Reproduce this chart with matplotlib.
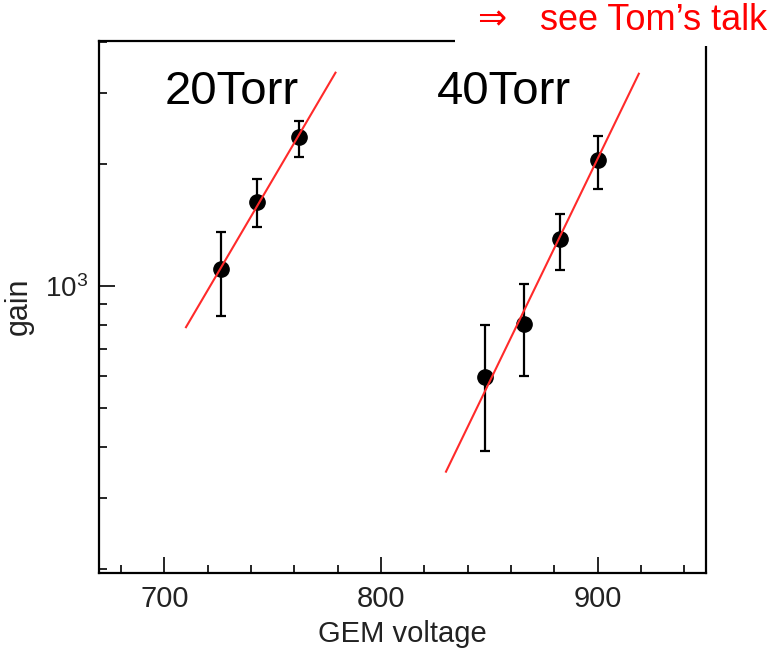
import matplotlib
matplotlib.use('Agg')
import matplotlib.pyplot as plt
from matplotlib.ticker import LogLocator, NullFormatter, FixedLocator, LogFormatterMathtext
from matplotlib.patches import Rectangle
import numpy as np

plt.rcParams['font.family'] = ['Liberation Sans', 'DejaVu Sans']

# 20 Torr data (GEM voltage, gain, error bar low/high)
v20 = [726, 743, 762]
g20 = [1100, 1615, 2330]
g20_lo = [845, 1400, 2085]
g20_hi = [1357, 1837, 2553]
fit20_v = [710, 779]
fit20_g = [791, 3360]

# 40 Torr data
v40 = [848, 866, 882.5, 900]
g40 = [597, 806, 1306, 2047]
g40_lo = [391, 600, 1095, 1733]
g40_hi = [801, 1010, 1503, 2350]
fit40_v = [830, 919]
fit40_g = [348, 3340]

W, H = 782, 649
fig = plt.figure(figsize=(W / 100, H / 100), dpi=100)
ax = fig.add_axes([0.127, 0.1176, 0.7758, 0.8197])

for v, g, lo, hi in [(v20, g20, g20_lo, g20_hi), (v40, g40, g40_lo, g40_hi)]:
    g = np.array(g)
    yerr = [g - np.array(lo), np.array(hi) - g]
    ax.errorbar(v, g, yerr=yerr, fmt='o', color='black', ms=11,
                elinewidth=1.6, capsize=3.5, capthick=1.6, zorder=3)

ax.plot(fit20_v, fit20_g, color='#ff2a2a', lw=1.5, zorder=4)
ax.plot(fit40_v, fit40_g, color='#ff2a2a', lw=1.5, zorder=4)

ax.set_yscale('log')
ax.set_xlim(670, 950)
ax.set_ylim(196, 4030)

ax.xaxis.set_major_locator(FixedLocator([700, 800, 900]))
ax.xaxis.set_minor_locator(FixedLocator(np.arange(680, 950, 20)))
ax.yaxis.set_major_locator(FixedLocator([1000]))
ax.yaxis.set_major_formatter(LogFormatterMathtext())
ax.yaxis.set_minor_locator(LogLocator(base=10, subs=np.arange(2, 10)))
ax.yaxis.set_minor_formatter(NullFormatter())

ax.tick_params(which='both', direction='in', top=False, right=False, width=1.2)
ax.tick_params(which='major', length=11.5, labelsize=20, pad=8, labelcolor='#222222')
ax.tick_params(which='minor', length=6)
ax.tick_params(axis='x', labelsize=21, pad=9)
for s in ax.spines.values():
    s.set_linewidth(1.6)

ax.set_xlabel('GEM voltage', fontsize=21, labelpad=5, color='#222222')
ax.set_ylabel('gain', fontsize=22, labelpad=8, color='#222222')

fig.text(165 / W, 1 - 104 / H, '20Torr', fontsize=34, va='baseline')
fig.text(437 / W, 1 - 104 / H, '40Torr', fontsize=34, va='baseline')

# white box with the red note covering the top-right corner
fig.patches.append(Rectangle((455 / W, 1 - 46 / H), 1, 1, transform=fig.transFigure,
                             facecolor='white', edgecolor='none', zorder=10))
fig.text(477 / W, 1 - 20 / H, '\u21d2', color='red', fontsize=25,
         va='center', ha='left', zorder=11)
fig.text(540 / W, 1 - 20 / H, 'see Tom\u2019s talk', color='red', fontsize=26,
         va='center', ha='left', zorder=11)

fig.savefig('out.png', dpi=100)
